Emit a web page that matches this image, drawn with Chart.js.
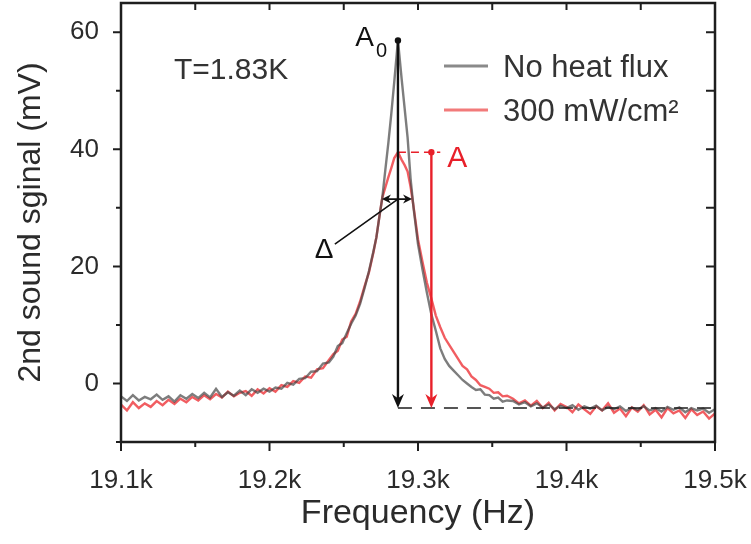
<!DOCTYPE html>
<html>
<head>
<meta charset="utf-8">
<script src="https://cdn.jsdelivr.net/npm/chart.js@4/dist/chart.umd.min.js"></script>
<style>
  html, body { margin: 0; padding: 0; background: #fff; }
  canvas { display: block; }
</style>
</head>
<body>
<canvas id="sound" width="751" height="544"></canvas>
<script>
// frequency points (Hz)
const freqHz = [
  19100, 19104, 19108, 19112, 19116, 19120, 19124, 19128, 19132, 19136,
  19140, 19144, 19148, 19152, 19156, 19160, 19164, 19168, 19172, 19176,
  19180, 19184, 19188, 19192, 19196, 19200, 19204, 19208, 19212, 19216,
  19220, 19224, 19228, 19232, 19236, 19240,
  19243, 19246, 19249, 19252, 19255, 19258, 19261, 19264, 19267, 19270,
  19272, 19274, 19276, 19278, 19280, 19282, 19284, 19286.5, 19289, 19291,
  19293, 19295, 19297, 19300,
  19303, 19306, 19309, 19312, 19315, 19318, 19321, 19324, 19327, 19330,
  19333, 19336, 19339, 19342, 19345, 19348, 19351, 19354, 19357, 19360,
  19364, 19368, 19372, 19376, 19380, 19384, 19388, 19392, 19396, 19400,
  19404, 19408, 19412, 19416, 19420, 19424, 19428, 19432, 19436, 19440,
  19444, 19448, 19452, 19456, 19460, 19464, 19468, 19472, 19476, 19480,
  19484, 19488, 19492, 19496, 19500
];

// 2nd sound signal (mV), no heat flux
const noFlux = [
  -2.2, -3.0, -2.0, -2.9, -2.3, -2.7, -1.9, -2.8, -2.2, -3.1,
  -2.0, -2.6, -1.8, -2.5, -1.6, -2.4, -0.9, -2.3, -1.5, -2.1,
  -1.2, -2.0, -1.0, -1.6, -0.9, -1.4, -0.7, -0.9, 0.1, -0.2,
  0.8, 0.9, 2.0, 2.1, 3.4, 3.6,
  4.6, 6.4, 6.9, 8.6, 10.2, 11.6, 13.6, 16.3, 19.2, 22.6,
  25.0, 28.5, 31.8, 36.5, 41.0, 46.0, 51.5, 58.6, 52.0, 47.0,
  42.0, 35.0, 30.0, 23.8,
  19.5, 15.5, 11.8, 9.0, 6.0, 4.2, 3.0, 2.2, 1.4, 0.6,
  0.0, -0.6, -1.1, -1.0, -1.9, -2.0, -2.6, -2.4, -3.1, -2.9,
  -3.0, -3.6, -3.2, -3.9, -3.4, -4.1, -3.6, -4.4, -3.8, -4.2,
  -3.7, -4.5, -3.9, -4.3, -3.8, -4.6, -4.0, -4.4, -3.9, -4.7,
  -4.1, -4.5, -3.9, -4.6, -4.2, -4.8, -4.0, -4.5, -4.1, -4.9,
  -4.2, -4.6, -4.3, -5.0, -4.4
];

// 2nd sound signal (mV), 300 mW/cm2
const withFlux = [
  -3.6, -4.6, -3.2, -4.2, -3.4, -4.0, -3.0, -3.7, -2.8, -3.5,
  -2.6, -3.2, -2.3, -2.9, -2.0, -2.7, -1.8, -2.4, -1.4, -2.2,
  -1.6, -1.3, -2.1, -1.0, -1.7, -0.8, -1.4, -0.3, -0.6, 0.4,
  0.1, 1.2, 1.0, 2.4, 2.6, 4.0,
  5.0, 5.6, 7.5, 8.0, 10.6, 11.9, 14.0, 16.6, 19.0, 22.4,
  25.0, 28.5, 31.8, 33.5, 35.2, 36.8, 38.5, 39.5, 38.2, 37.3,
  36.2, 33.6, 30.2, 24.6,
  20.8, 17.2, 14.5, 11.6, 9.6, 7.8, 6.6, 5.4, 4.2, 3.0,
  2.4, 1.2, 0.6, -0.3, -0.6, -0.9, -1.6, -1.5, -2.2, -2.1,
  -2.6, -3.4, -2.9, -3.8, -3.0, -4.2, -3.3, -4.6, -3.5, -4.0,
  -4.9, -3.6, -4.4, -5.2, -3.9, -4.6, -3.4, -5.0, -4.3, -5.6,
  -4.1, -4.8, -3.7, -5.3, -4.5, -5.8, -4.2, -5.1, -4.6, -5.9,
  -4.4, -5.4, -4.8, -6.0, -5.1
];

const seriesNames = ['No heat flux', '300 mW/cm\u00b2'];

// axes
const xTickVals = [19100, 19200, 19300, 19400, 19500];
const xMinorVals = [19150, 19250, 19350, 19450];
const yTickVals = [0, 20, 40, 60];
const yMinorVals = [-10, 10, 30, 50];
const yRightVals = [-10, 0, 10, 20, 30, 40, 50, 60];

// annotation values (data units)
const peakA0 = { f: 19286.5, v: 58.6 };
const peakA = { f: 19286.5, v: 39.5 };
const arrowA = 19309;
const dashEndA = 19315;
const baseline = -4.2;
const deltaLevel = 31.5;
const deltaFrom = 19275.7;
const deltaTo = 19296;
const deltaLabel = { f: 19236.7, v: 23.1 };
const deltaLineStart = { f: 19244, v: 23.8 };

const FONT = '"Liberation Sans", Arial, sans-serif';
const INK = '#2b2b2b';

function arrowHead(ctx, x, y, ang, len, half) {
  ctx.save();
  ctx.translate(x, y);
  ctx.rotate(ang);
  ctx.beginPath();
  ctx.moveTo(0, 0);
  ctx.lineTo(-len, -half);
  ctx.lineTo(-len * 0.7, 0);
  ctx.lineTo(-len, half);
  ctx.closePath();
  ctx.fill();
  ctx.restore();
}

const decor = {
  id: 'decor',
  afterDatasetsDraw(chart) {
    const ctx = chart.ctx;
    const xs = chart.scales.x, ys = chart.scales.y;
    const area = chart.chartArea;
    const X = (f) => xs.getPixelForValue(f);
    const Y = (v) => ys.getPixelForValue(v);
    ctx.save();

    // frame + ticks
    ctx.strokeStyle = '#1e1e1e';
    ctx.lineWidth = 2.5;
    ctx.strokeRect(area.left, area.top, area.right - area.left, area.bottom - area.top);
    ctx.lineWidth = 2;
    ctx.beginPath();
    xTickVals.forEach(f => { ctx.moveTo(X(f), area.bottom); ctx.lineTo(X(f), area.bottom + 9); });
    xMinorVals.forEach(f => { ctx.moveTo(X(f), area.bottom); ctx.lineTo(X(f), area.bottom + 5); });
    xTickVals.concat(xMinorVals).forEach(f => { ctx.moveTo(X(f), area.top); ctx.lineTo(X(f), area.top + 7); });
    yTickVals.forEach(v => { ctx.moveTo(area.left, Y(v)); ctx.lineTo(area.left - 8, Y(v)); });
    yMinorVals.forEach(v => { ctx.moveTo(area.left, Y(v)); ctx.lineTo(area.left - 5, Y(v)); });
    yRightVals.forEach(v => { ctx.moveTo(area.right, Y(v)); ctx.lineTo(area.right - 9, Y(v)); });
    ctx.stroke();

    // dashed baseline
    ctx.strokeStyle = '#1e1e1e';
    ctx.lineWidth = 1.6;
    ctx.setLineDash([14, 9]);
    ctx.beginPath();
    ctx.moveTo(X(peakA0.f), Y(baseline));
    ctx.lineTo(X(xTickVals[xTickVals.length - 1]), Y(baseline));
    ctx.stroke();

    // red dashed level of A
    ctx.strokeStyle = '#e8202a';
    ctx.setLineDash([8, 5]);
    ctx.lineWidth = 1.6;
    ctx.beginPath();
    ctx.moveTo(X(peakA.f), Y(peakA.v));
    ctx.lineTo(X(dashEndA), Y(peakA.v));
    ctx.stroke();
    ctx.setLineDash([]);

    // A0 arrow
    ctx.strokeStyle = '#111';
    ctx.fillStyle = '#111';
    ctx.lineWidth = 2.4;
    ctx.beginPath();
    ctx.moveTo(X(peakA0.f), Y(peakA0.v));
    ctx.lineTo(X(peakA0.f), Y(baseline) - 8);
    ctx.stroke();
    arrowHead(ctx, X(peakA0.f), Y(baseline), Math.PI / 2, 14, 6);
    ctx.beginPath();
    ctx.arc(X(peakA0.f), Y(peakA0.v), 3.2, 0, Math.PI * 2);
    ctx.fill();

    // A arrow
    ctx.strokeStyle = '#e8202a';
    ctx.fillStyle = '#e8202a';
    ctx.beginPath();
    ctx.moveTo(X(arrowA), Y(peakA.v));
    ctx.lineTo(X(arrowA), Y(baseline) - 8);
    ctx.stroke();
    arrowHead(ctx, X(arrowA), Y(baseline), Math.PI / 2, 14, 6);
    ctx.beginPath();
    ctx.arc(X(arrowA), Y(peakA.v), 3.2, 0, Math.PI * 2);
    ctx.fill();

    // width marker
    ctx.strokeStyle = '#111';
    ctx.fillStyle = '#111';
    ctx.lineWidth = 1.6;
    const dy = Y(deltaLevel);
    ctx.beginPath();
    ctx.moveTo(X(deltaFrom) + 4, dy);
    ctx.lineTo(X(deltaTo) - 4, dy);
    ctx.moveTo(X(deltaLineStart.f), Y(deltaLineStart.v));
    ctx.lineTo(X(peakA0.f), dy);
    ctx.stroke();
    arrowHead(ctx, X(deltaFrom), dy, Math.PI, 9, 4.5);
    arrowHead(ctx, X(deltaTo), dy, 0, 9, 4.5);

    // labels
    ctx.fillStyle = '#111';
    ctx.textBaseline = 'alphabetic';
    ctx.font = '28px ' + FONT;
    ctx.textAlign = 'center';
    ctx.fillText('\u0394', X(deltaLabel.f), Y(deltaLabel.v) + 10);
    ctx.textAlign = 'right';
    ctx.fillText('A', X(peakA0.f) - 24, Y(peakA0.v) + 6);
    ctx.font = '20px ' + FONT;
    ctx.textAlign = 'left';
    ctx.fillText('0', X(peakA0.f) - 22, Y(peakA0.v) + 17);
    ctx.fillStyle = '#e8202a';
    ctx.font = '30px ' + FONT;
    ctx.fillText('A', X(dashEndA) + 7, Y(peakA.v) + 15);

    ctx.fillStyle = '#333';
    ctx.font = '30px ' + FONT;
    ctx.fillText('T=1.83K', area.left + 53, area.top + 76);

    // legend
    const lx = area.left + 323;
    const rows = [
      { name: seriesNames[0], color: '#8a8a8a', y: area.top + 63 },
      { name: seriesNames[1], color: '#f27a7a', y: area.top + 107 }
    ];
    rows.forEach(r => {
      ctx.strokeStyle = r.color;
      ctx.lineWidth = 3;
      ctx.beginPath();
      ctx.moveTo(lx, r.y);
      ctx.lineTo(lx + 44, r.y);
      ctx.stroke();
      ctx.fillStyle = '#333';
      ctx.font = '31px ' + FONT;
      ctx.fillText(r.name, lx + 59, r.y + 11);
    });
    ctx.restore();
  }
};

new Chart(document.getElementById('sound'), {
  type: 'scatter',
  data: {
    datasets: [{
      label: seriesNames[0],
      data: freqHz.map((f, i) => ({ x: f, y: noFlux[i] })),
      showLine: true,
      borderColor: 'rgba(70,70,70,0.7)',
      borderWidth: 2.4,
      pointRadius: 0
    }, {
      label: seriesNames[1],
      data: freqHz.map((f, i) => ({ x: f, y: withFlux[i] })),
      showLine: true,
      borderColor: 'rgba(236,30,36,0.72)',
      borderWidth: 2.4,
      pointRadius: 0
    }]
  },
  options: {
    responsive: false,
    animation: false,
    layout: { padding: { top: 3, right: 36, left: 0, bottom: 0 } },
    plugins: { legend: { display: false }, tooltip: { enabled: false } },
    scales: {
      x: {
        type: 'linear', min: 19100, max: 19500,
        grid: { display: false },
        border: { display: false },
        afterBuildTicks: (s) => { s.ticks = xTickVals.map(v => ({ value: v })); },
        afterFit: (s) => { s.height = 102; s.paddingLeft = 0; s.paddingRight = 0; },
        ticks: {
          padding: 15, color: INK, font: { family: FONT, size: 26 },
          maxRotation: 0, autoSkip: false,
          callback: (v) => (v / 1000).toFixed(1) + 'k'
        },
        title: {
          display: true, text: 'Frequency (Hz)', color: INK,
          font: { family: FONT, size: 34 }, padding: { top: 0, bottom: 10 }
        }
      },
      y: {
        min: -10, max: 65,
        grid: { display: false },
        border: { display: false },
        afterBuildTicks: (s) => { s.ticks = yTickVals.map(v => ({ value: v })); },
        afterFit: (s) => { s.width = 121; s.paddingTop = 0; s.paddingBottom = 0; },
        ticks: { padding: 14, color: INK, font: { family: FONT, size: 26 } },
        title: {
          display: true, text: '2nd sound sginal (mV)', color: INK,
          font: { family: FONT, size: 32 }, padding: { top: 12, bottom: 0 }
        }
      }
    }
  },
  plugins: [decor]
});
</script>
</body>
</html>
